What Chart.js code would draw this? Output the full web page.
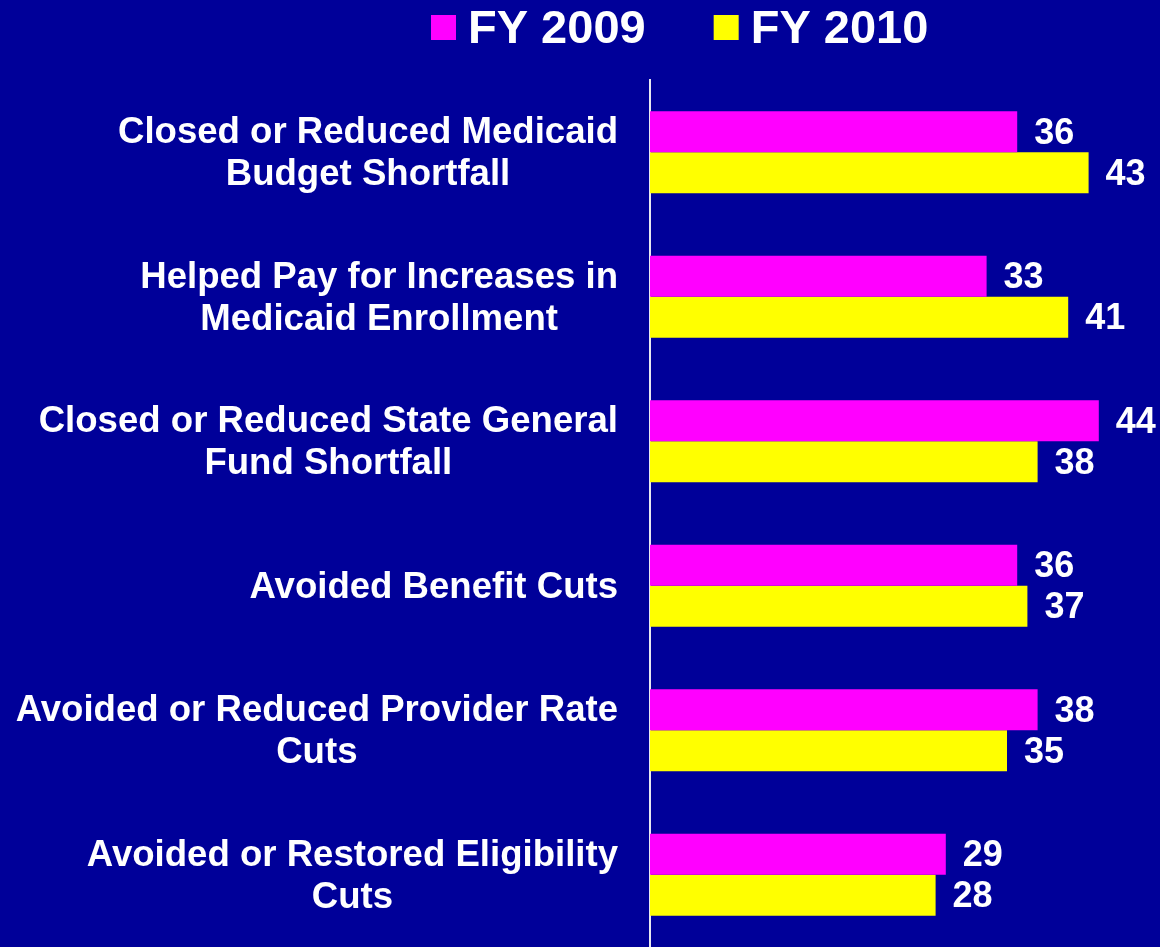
<!DOCTYPE html>
<html>
<head>
<meta charset="utf-8">
<script src="https://cdn.jsdelivr.net/npm/chart.js@4/dist/chart.umd.min.js"></script>
<style>
  html, body { margin: 0; padding: 0; background: #000099; }
  #wrap { width: 1160px; height: 947px; }
</style>
</head>
<body>
<div id="wrap"><canvas id="chart"></canvas></div>
<script>
// data
const categories = [
  ["Closed or Reduced Medicaid", "Budget Shortfall"],
  ["Helped Pay for Increases in", "Medicaid Enrollment"],
  ["Closed or Reduced State General", "Fund Shortfall"],
  ["Avoided Benefit Cuts"],
  ["Avoided or Reduced Provider Rate", "Cuts"],
  ["Avoided or Restored Eligibility", "Cuts"]
];
const fy2009 = [36, 33, 44, 36, 38, 29];
const fy2010 = [43, 41, 38, 37, 35, 28];
const seriesNames = ["FY 2009", "FY 2010"];

const FONT = "'Liberation Sans', Arial, sans-serif";

// nhãn trục trái: khối căn phải, từng dòng căn giữa
const catLabels = {
  id: "catLabels",
  afterDraw(chart) {
    const { ctx, chartArea } = chart;
    const y = chart.scales.y;
    ctx.save();
    ctx.font = "bold 36.6px " + FONT;
    ctx.fillStyle = "#ffffff";
    ctx.textAlign = "center";
    ctx.textBaseline = "middle";
    categories.forEach((lines, i) => {
      const cy = y.getPixelForValue(i) + 2;
      const w = Math.max(...lines.map(l => ctx.measureText(l).width));
      const cx = chartArea.left - 32 - w / 2;
      lines.forEach((l, j) => {
        ctx.fillText(l, cx, cy + (j - (lines.length - 1) / 2) * 42);
      });
    });
    ctx.restore();
  }
};

// số ở cuối mỗi thanh
const valueLabels = {
  id: "valueLabels",
  afterDatasetsDraw(chart) {
    const { ctx } = chart;
    ctx.save();
    ctx.font = "bold 36px " + FONT;
    ctx.fillStyle = "#ffffff";
    ctx.textAlign = "left";
    ctx.textBaseline = "middle";
    chart.data.datasets.forEach((ds, di) => {
      chart.getDatasetMeta(di).data.forEach((bar, i) => {
        ctx.fillText(ds.data[i], bar.x + 17, bar.y + 2);
      });
    });
    ctx.restore();
  }
};

// chú thích phía trên
const topLegend = {
  id: "topLegend",
  afterDraw(chart) {
    const { ctx } = chart;
    ctx.save();
    ctx.font = "bold 47px " + FONT;
    ctx.textBaseline = "middle";
    ctx.textAlign = "left";
    let x = 431;
    chart.data.datasets.forEach(ds => {
      ctx.fillStyle = ds.backgroundColor;
      ctx.fillRect(x, 15, 25, 25);
      ctx.fillStyle = "#ffffff";
      ctx.fillText(ds.label, x + 37, 30);
      x += 37 + ctx.measureText(ds.label).width + 68;
    });
    ctx.restore();
  }
};

new Chart(document.getElementById("chart"), {
  type: "bar",
  data: {
    labels: categories,
    datasets: [
      { label: seriesNames[0], data: fy2009, backgroundColor: "#ff00ff" },
      { label: seriesNames[1], data: fy2010, backgroundColor: "#ffff00" }
    ]
  },
  options: {
    indexAxis: "y",
    responsive: true,
    maintainAspectRatio: false,
    animation: false,
    categoryPercentage: 0.567,
    barPercentage: 1.0,
    layout: { padding: { top: 80, left: 0, right: 0, bottom: 0 } },
    plugins: {
      legend: { display: false },
      tooltip: { enabled: false }
    },
    scales: {
      x: { display: false, min: 0, max: 50 },
      y: {
        grid: { display: false },
        ticks: { display: false },
        border: { display: true, color: "#e8e8f0", width: 2 },
        afterFit: s => { s.width = 650; }
      }
    }
  },
  plugins: [catLabels, valueLabels, topLegend]
});
</script>
</body>
</html>
